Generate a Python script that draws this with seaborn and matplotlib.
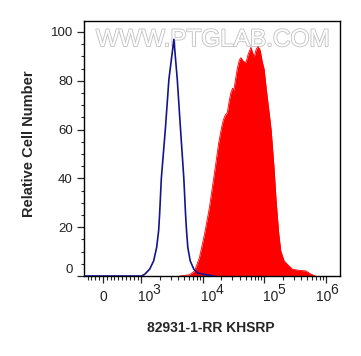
import numpy as np
import pandas as pd
import matplotlib
matplotlib.use("Agg")
import matplotlib.pyplot as plt
import seaborn as sns
import matplotlib.patheffects as pe
from matplotlib.transforms import ScaledTranslation, blended_transform_factory
from matplotlib.ticker import FixedLocator

# ---------------- data ----------------
blue_x = [-480, 0, 1000, 1131, 1363, 1582, 1770, 1907, 1980, 2109, 2449, 2802, 3377,
          3833, 4335, 4902, 5224, 5424, 5692, 6226, 7122, 8266, 11310, 15420]
blue_y = [0, 0, 0, 0.7, 2.8, 6.2, 11.7, 18.6, 25.5, 40, 60, 80.6, 97,
          80.6, 60, 40, 25.5, 18.6, 11.7, 6.2, 2.8, 1.2, 0.5, 0]

red_x = [4176, 6065, 7310, 8810, 10620, 12790, 15420, 18100, 20250, 21570, 23250, 25040,
         26990, 28540, 30510, 31920, 33760, 36380, 39200, 41760, 45500, 50320, 54830,
         60650, 63660, 68610, 73930, 79640, 85800, 92470, 99630, 107350, 120050, 129350,
         144700, 155950, 171200, 185800, 210200, 253300, 286400, 367900, 472300, 569200, 686000]
red_y = [0, 0.5, 2, 7.6, 17, 28, 42, 54.5, 61, 64, 66, 67,
         72, 75, 77, 76, 80, 85, 88.5, 89.5, 88, 87.5, 91,
         93.7, 92, 89.7, 93, 94, 92.5, 88, 84.7, 77, 67, 60,
         44, 31, 18, 10.3, 6.2, 4.1, 2.8, 2.3, 2.1, 0.8, 0]

xtick_vals = [0, 1e3, 1e4, 1e5, 1e6]
xtick_base = ["0", "10", "10", "10", "10"]
xtick_exp = ["", "3", "4", "5", "6"]
ytick_vals = [0, 20, 40, 60, 80, 100]
ytick_labels = ["0", "20", "40", "60", "80", "100"]

x_title = "82931-1-RR KHSRP"
y_title = "Relative Cell Number"
watermark = "WWW.PTGLAB.COM"

# ---------------- style ----------------
sns.set_style("ticks")
plt.rcParams["font.family"] = ["Liberation Sans", "DejaVu Sans"]

fig = plt.figure(figsize=(3.61, 3.56), dpi=100)
ax = fig.add_axes([84 / 361, 80 / 356, 256 / 361, 255 / 356])
ax.set_xscale("symlog", linthresh=1000, linscale=0.5643)

ax.text(0.502, 0.925, watermark, transform=ax.transAxes, ha="center", va="center",
        fontsize=17.5, color="white", zorder=1,
        path_effects=[pe.Stroke(linewidth=1.3, foreground="#c4c4c4"), pe.Normal()])

ax.fill_between(red_x, red_y, 0, color="#ff0000", lw=0, zorder=2)
sns.lineplot(x=red_x, y=red_y, color="#ff0000", lw=0.6, sort=False, ax=ax, zorder=2)
sns.lineplot(x=blue_x, y=blue_y, color="#14148c", lw=1.2, sort=False, ax=ax, zorder=3)

ax.set_xlim(-491, 1.71e6)
ax.set_ylim(0, 104.5)

for s in ax.spines.values():
    s.set_linewidth(1.0)
    s.set_color("black")
    s.set_visible(True)

# x ticks
ax.set_xticks(xtick_vals)
ax.set_xticklabels([""] * len(xtick_vals))
minor = [v for v in range(-400, 1000, 100) if v != 0]
for d in (1e3, 1e4, 1e5):
    minor += [k * d for k in range(2, 10)]
ax.xaxis.set_minor_locator(FixedLocator(minor))
ax.tick_params(axis="x", which="major", length=5, width=0.9, direction="out")
ax.tick_params(axis="x", which="minor", length=3, width=0.8, direction="out")

trans = blended_transform_factory(ax.transData, ax.transAxes)
dxs = [0, 4.3, 6, 6, -2.4]
for v, b, e, dx in zip(xtick_vals, xtick_base, xtick_exp, dxs):
    ax.text(v, 0, b, transform=trans + ScaledTranslation(dx / 100, -21 / 100, fig.dpi_scale_trans),
            ha="center", va="center", fontsize=10, color="#222222", clip_on=False)
    if e:
        ax.text(v, 0, e, transform=trans + ScaledTranslation((dx + 11) / 100, -14 / 100, fig.dpi_scale_trans),
                ha="center", va="center", fontsize=10, color="#222222", clip_on=False)

# y ticks
ax.set_yticks(ytick_vals)
ax.set_yticklabels(ytick_labels, fontsize=9.5, color="#222222")
ax.yaxis.set_minor_locator(FixedLocator([v for v in range(5, 105, 5) if v % 20 != 0]))
ax.tick_params(axis="y", which="major", length=5, width=0.9, direction="out", pad=3)
ax.tick_params(axis="y", which="minor", length=2.5, width=0.8, direction="out")
ax.get_yticklabels()[0].set_va("bottom")

ax.set_xlabel(x_title, fontsize=10, fontweight="bold")
ax.xaxis.set_label_coords(0.497, -0.204)
ax.xaxis.label.set_va("center")
ax.set_ylabel(y_title, fontsize=10.5, fontweight="bold")
ax.yaxis.set_label_coords(-0.215, 0.52)
ax.yaxis.label.set_va("center")

fig.savefig("out.png", dpi=100)
